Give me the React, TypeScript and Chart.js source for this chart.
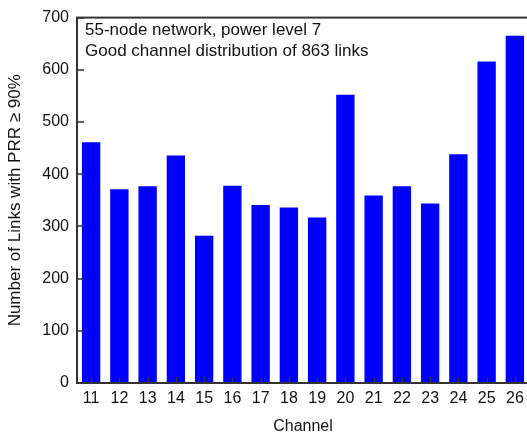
import React, { useEffect, useRef } from "react";
import { Chart, registerables } from "chart.js";

Chart.register(...registerables);

const channels = ["11", "12", "13", "14", "15", "16", "17", "18", "19", "20", "21", "22", "23", "24", "25", "26"];
const goodLinks = [461, 371, 377, 436, 282, 378, 341, 336, 317, 552, 359, 377, 344, 438, 616, 665];
const yTicks = [0, 100, 200, 300, 400, 500, 600, 700];
const noteLines = ["55-node network, power level 7", "Good channel distribution of 863 links"];

const FONT = '"Liberation Sans", Arial, Helvetica, sans-serif';
const AXIS_COLOR = "#333333";

const framePlugin = {
  id: "framePlugin",
  afterDatasetsDraw(chart: any) {
    const { ctx, chartArea } = chart;
    const xs = chart.scales.x;
    const ys = chart.scales.y;
    ctx.save();
    ctx.strokeStyle = AXIS_COLOR;
    ctx.lineWidth = 1.5;
    ctx.beginPath();
    for (let i = 0; i < xs.ticks.length; i++) {
      const px = Math.round(xs.getPixelForTick(i)) + 0.5;
      ctx.moveTo(px, chartArea.bottom);
      ctx.lineTo(px, chartArea.bottom - 6);
    }
    for (let i = 0; i < ys.ticks.length; i++) {
      const py = Math.round(ys.getPixelForTick(i));
      ctx.moveTo(chartArea.left, py);
      ctx.lineTo(chartArea.left + 7, py);
    }
    ctx.stroke();
    ctx.lineWidth = 2;
    ctx.strokeRect(chartArea.left, chartArea.top, chartArea.right - chartArea.left, chartArea.bottom - chartArea.top);
    ctx.fillStyle = "#111111";
    ctx.font = "17px " + FONT;
    ctx.textBaseline = "middle";
    ctx.textAlign = "left";
    noteLines.forEach((line, i) => {
      ctx.fillText(line, chartArea.left + 8, chartArea.top + 13 + i * 21);
    });
    ctx.restore();
  },
};

export default function App() {
  const ref = useRef<HTMLCanvasElement | null>(null);

  useEffect(() => {
    if (!ref.current) return;
    const chart = new Chart(ref.current, {
      type: "bar",
      data: {
        labels: channels,
        datasets: [
          {
            data: goodLinks,
            backgroundColor: "#0000ff",
            borderWidth: 0,
            categoryPercentage: 1,
            barPercentage: 0.65,
          },
        ],
      },
      options: {
        animation: false,
        responsive: false,
        maintainAspectRatio: false,
        layout: { padding: { left: 0, top: 15, right: 11, bottom: 0 } },
        plugins: { legend: { display: false }, tooltip: { enabled: false } },
        scales: {
          x: {
            grid: { display: false, drawTicks: false },
            border: { display: false },
            ticks: { color: "#111111", font: { family: FONT, size: 16 }, padding: 6, maxRotation: 0, autoSkip: false },
            title: {
              display: true,
              text: "Channel",
              color: "#111111",
              font: { family: FONT, size: 16 },
              padding: { top: 0, bottom: 3 },
            },
            afterFit: (s: any) => {
              s.height = 56;
            },
          },
          y: {
            min: 0,
            max: 700,
            afterBuildTicks: (s: any) => {
              s.ticks = yTicks.map((v) => ({ value: v }));
            },
            grid: { display: false, drawTicks: false },
            border: { display: false },
            ticks: { color: "#111111", font: { family: FONT, size: 16 }, padding: 8 },
            title: {
              display: true,
              text: "Number of Links with PRR \u2265 90%",
              color: "#111111",
              font: { family: FONT, size: 17 },
              padding: { top: 5, bottom: 0 },
            },
            afterFit: (s: any) => {
              s.width = 77;
            },
          },
        },
      },
      plugins: [framePlugin],
    });
    return () => chart.destroy();
  }, []);

  return (
    <div style={{ position: "fixed", left: 0, top: 0, width: 527, height: 439, overflow: "hidden", background: "#ffffff" }}>
      <canvas ref={ref} width={540} height={439} style={{ display: "block", width: 540, height: 439 }} />
    </div>
  );
}
